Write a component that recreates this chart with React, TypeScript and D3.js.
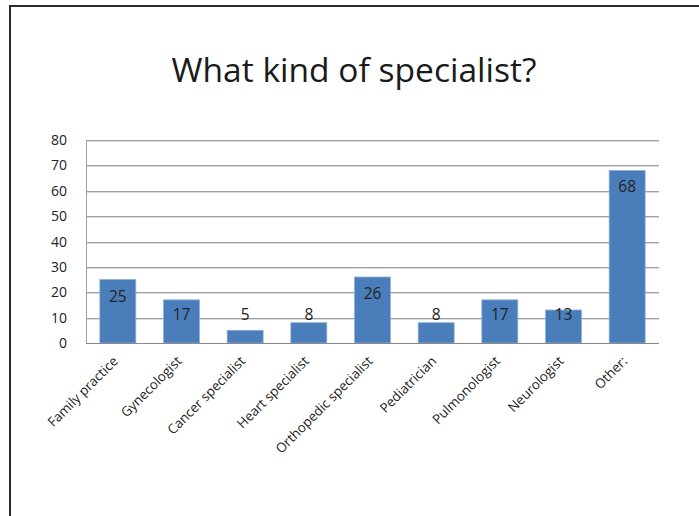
import React from "react";
import * as d3 from "d3";

const categories = [
  "Family practice",
  "Gynecologist",
  "Cancer specialist",
  "Heart specialist",
  "Orthopedic specialist",
  "Pediatrician",
  "Pulmonologist",
  "Neurologist",
  "Other:",
];
const values = [25, 17, 5, 8, 26, 8, 17, 13, 68];
const yTicks = [0, 10, 20, 30, 40, 50, 60, 70, 80];
const title = "What kind of specialist?";

const W = 699;
const H = 516;
const FONT = "'Open Sans', 'Noto Sans', sans-serif";

export default function App() {
  const left = 86;
  const right = 659;
  const top = 140;
  const bottom = 343;

  const x = d3
    .scaleBand<string>()
    .domain(categories)
    .range([left, right])
    .paddingInner(0.435)
    .paddingOuter(0.2175);
  const y = d3.scaleLinear().domain([0, 80]).range([bottom, top]);

  return (
    <svg
      width={W}
      height={H}
      style={{ position: "absolute", left: 0, top: 0, background: "#fff" }}
    >
      <rect x={0} y={0} width={W} height={H} fill="#fff" />
      {/* slide frame */}
      <line x1={10} y1={6} x2={W} y2={6} stroke="#2b2b2b" strokeWidth={2} />
      <line x1={10} y1={5} x2={10} y2={H} stroke="#2b2b2b" strokeWidth={2} />

      <text
        x={354}
        y={82}
        textAnchor="middle"
        fontFamily={FONT}
        fontSize={33}
        fill="#1a1a1a"
        textLength={365}
        lengthAdjust="spacingAndGlyphs"
      >
        {title}
      </text>

      {/* gridlines */}
      {yTicks.map((t) => (
        <g key={t}>
          {t > 0 && (
            <line
              x1={left}
              x2={right}
              y1={Math.round(y(t)) + 1.5}
              y2={Math.round(y(t)) + 1.5}
              stroke="#dcdcdc"
              strokeWidth={1}
            />
          )}
          <line
            x1={left}
            x2={right}
            y1={Math.round(y(t)) + 0.5}
            y2={Math.round(y(t)) + 0.5}
            stroke="#a0a0a0"
            strokeWidth={1}
          />
          <text
            x={left - 19}
            y={y(t)}
            dy="0.36em"
            textAnchor="end"
            fontFamily={FONT}
            fontSize={14}
            fill="#222"
          >
            {t}
          </text>
        </g>
      ))}
      {/* left edge of plot */}
      <line x1={left + 0.5} x2={left + 0.5} y1={top} y2={bottom} stroke="#a0a0a0" />

      {/* bars */}
      {categories.map((c, i) => {
        const v = values[i];
        const bx = x(c)!;
        const by = y(v);
        const labelY = Math.min(by + 22, bottom - 23);
        return (
          <g key={c}>
            <rect
              x={bx}
              y={by}
              width={x.bandwidth()}
              height={bottom - by}
              fill="#4a7ebb"
              stroke="#8eaedb"
              strokeWidth={0.8}
            />
            <text
              x={bx + x.bandwidth() / 2}
              y={labelY}
              textAnchor="middle"
              fontFamily={FONT}
              fontSize={15.5}
              fill="#222"
            >
              {v}
            </text>
          </g>
        );
      })}

      {/* axis line */}
      <line x1={left} x2={right} y1={bottom + 0.5} y2={bottom + 0.5} stroke="#888" />

      {/* category labels */}
      {categories.map((c) => {
        const cx = x(c)! + x.bandwidth() / 2 + 1;
        return (
          <text
            key={c}
            transform={`translate(${cx},${bottom + 19}) rotate(-45)`}
            textAnchor="end"
            fontFamily={FONT}
            fontSize={13.3}
            fill="#222"
          >
            {c}
          </text>
        );
      })}
    </svg>
  );
}
